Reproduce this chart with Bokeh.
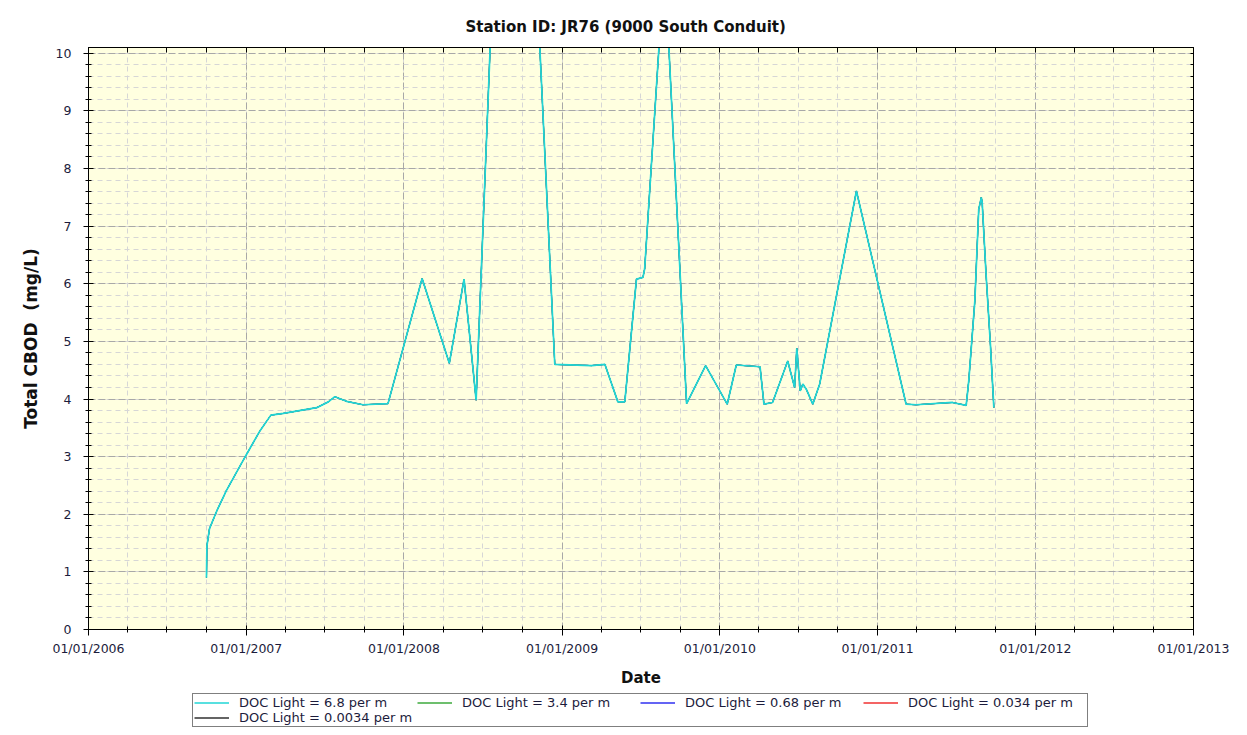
import pandas as pd
from bokeh.plotting import figure
from bokeh.layouts import column
from bokeh.models import (FixedTicker, DatetimeTickFormatter, Legend, LegendItem,
                          LinearAxis, DatetimeAxis, Range1d)
from bokeh.embed import file_html
from bokeh.resources import INLINE

# ---------------- data ----------------
dates = ["2006-10-01", "2006-10-02", "2006-10-08", "2006-10-25", "2006-11-16", "2006-12-29",
         "2007-02-02", "2007-02-27", "2007-03-28", "2007-06-13", "2007-07-10", "2007-07-25",
         "2007-08-21", "2007-09-28", "2007-11-25", "2008-02-12", "2008-04-15", "2008-05-19",
         "2008-06-16", "2008-09-09", "2008-12-15", "2009-03-10", "2009-04-10", "2009-05-10",
         "2009-05-26", "2009-06-22", "2009-07-07", "2009-07-11", "2009-08-26", "2009-10-16",
         "2009-11-29", "2010-01-18", "2010-02-08", "2010-04-04", "2010-04-13", "2010-05-03",
         "2010-06-07", "2010-06-23", "2010-06-28", "2010-07-06", "2010-07-12", "2010-07-20",
         "2010-08-04", "2010-08-20", "2010-11-13", "2011-03-08", "2011-03-31", "2011-06-23",
         "2011-07-25", "2011-07-31", "2011-08-14", "2011-08-23", "2011-08-29", "2011-08-31",
         "2011-09-09", "2011-09-19", "2011-09-27"]
cbod_6_8 = [0.90, 1.45, 1.75, 2.06, 2.41, 2.99,
            3.45, 3.72, 3.75, 3.85, 3.95, 4.04,
            3.96, 3.90, 3.92, 6.09, 4.62, 6.08,
            3.98, 20.0, 4.60, 4.58, 4.60, 3.95,
            3.95, 6.08, 6.11, 6.26, 11.6, 3.92,
            4.58, 3.91, 4.59, 4.56, 3.91, 3.94,
            4.66, 4.20, 4.88, 4.14, 4.26, 4.17,
            3.91, 4.26, 7.61, 3.91, 3.90, 3.94,
            3.89, 4.32, 5.70, 7.29, 7.50, 7.41,
            6.16, 4.95, 3.85]
# the other light scenarios coincide with the 6.8 per m run at this scale
cbod_3_4 = list(cbod_6_8)
cbod_0_68 = list(cbod_6_8)
cbod_0_034 = list(cbod_6_8)
cbod_0_0034 = list(cbod_6_8)

series_labels = ["DOC Light = 6.8 per m", "DOC Light = 3.4 per m", "DOC Light = 0.68 per m",
                 "DOC Light = 0.034 per m", "DOC Light = 0.0034 per m"]
series_values = [cbod_6_8, cbod_3_4, cbod_0_68, cbod_0_034, cbod_0_0034]
series_colors = ["#20D6D6", "#3CAA3C", "#3030F0", "#F03030", "#303030"]

year_ticks = ["2006-01-01", "2007-01-01", "2008-01-01", "2009-01-01", "2010-01-01",
              "2011-01-01", "2012-01-01", "2013-01-01"]
y_ticks = [0, 1, 2, 3, 4, 5, 6, 7, 8, 9, 10]

# ---------------- helpers ----------------
def ms(s):
    return pd.Timestamp(s).value / 1e6

x = pd.to_datetime(dates)
major_x = [ms(s) for s in year_ticks]
minor_x = []
for yr in range(2006, 2013):
    for m in (1, 4, 7, 10):
        minor_x.append(ms(f"{yr}-{m:02d}-01"))
minor_x.append(ms("2013-01-01"))
minor_y = [round(i * 0.2, 2) for i in range(0, 51)]

FONT = "DejaVu Sans"
TXT = "#1c1c3c"

p = figure(width=1240, height=690, x_axis_type="datetime", output_backend="svg",
           toolbar_location=None,
           x_range=Range1d(major_x[0], major_x[-1]), y_range=Range1d(0, 10.1),
           background_fill_color="#FFFFE0", border_fill_color="white",
           min_border_left=88, min_border_right=47, min_border_top=47, min_border_bottom=61)

p.title.text = "Station ID: JR76 (9000 South Conduit)"
p.title.align = "left"
p.title.offset = 377
p.title.standoff = 23
p.title.text_font = FONT
p.title.text_font_size = "15px"
p.title.text_font_style = "bold"
p.title.text_color = "#111111"

p.outline_line_color = "black"
p.outline_line_width = 1

# renderers: hidden series first (thin), cyan last on top
for lab, vals, col in reversed(list(zip(series_labels, series_values, series_colors))):
    lw = 1.7 if lab == series_labels[0] else 1.0
    p.line(x, vals, line_color=col, line_width=lw)

# axes
xt = FixedTicker(ticks=major_x, minor_ticks=minor_x)
yt = FixedTicker(ticks=y_ticks, minor_ticks=minor_y)
fmt = "%m/%d/%Y"
xa = p.xaxis[0]
xa.ticker = xt
xa.formatter = DatetimeTickFormatter(microseconds=fmt, milliseconds=fmt, seconds=fmt, minsec=fmt,
                                     minutes=fmt, hourmin=fmt, hours=fmt, days=fmt, months=fmt,
                                     years=fmt)
ya = p.yaxis[0]
ya.ticker = yt
for ax in (xa, ya):
    ax.axis_line_color = "black"
    ax.major_tick_line_color = "black"
    ax.minor_tick_line_color = "black"
    ax.major_label_text_font = FONT
    ax.major_label_text_font_size = "12.5px"
    ax.major_label_text_color = TXT
    ax.axis_label_text_font = FONT
    ax.axis_label_text_font_style = "bold"
    ax.axis_label_text_color = "#111111"
xa.axis_label = "Date"
xa.axis_label_text_font_size = "15px"
xa.major_tick_in = 4
xa.major_tick_out = 6
xa.minor_tick_in = 3
xa.minor_tick_out = 3
xa.major_label_standoff = 5
xa.axis_label_standoff = 10
ya.axis_label = "Total CBOD\u00a0\u00a0(mg/L)"
ya.axis_label_text_font_size = "17px"
ya.major_tick_in = 5
ya.major_tick_out = 5
ya.minor_tick_in = 3
ya.minor_tick_out = 3
ya.major_label_standoff = 12
ya.axis_label_standoff = 12

# mirrored inner ticks on top and right
top_ax = DatetimeAxis(ticker=FixedTicker(ticks=[], minor_ticks=minor_x), axis_line_color="black",
                      minor_tick_in=5, minor_tick_out=0, minor_tick_line_color="black")
p.add_layout(top_ax, "above")
right_ax = LinearAxis(ticker=FixedTicker(ticks=[], minor_ticks=minor_y), axis_line_color="black",
                      minor_tick_in=3, minor_tick_out=0, minor_tick_line_color="black")
p.add_layout(right_ax, "right")

# grids
for g in (p.xgrid[0], p.ygrid[0]):
    g.grid_line_color = "#a8a8a8"
    g.grid_line_dash = "7 3"
    g.grid_line_width = 1
    g.minor_grid_line_color = "#d6d6d6"
    g.minor_grid_line_dash = "5 4"
p.xgrid[0].ticker = xt
p.ygrid[0].ticker = yt

# ---------------- legend strip below the chart ----------------
# same series, drawn in a strip whose y range excludes them, so only the legend shows
leg = figure(width=1240, height=42, output_backend="svg", toolbar_location=None,
             x_axis_location=None, y_axis_location=None,
             x_range=Range1d(major_x[0], major_x[-1]), y_range=Range1d(-2, -1),
             min_border_left=0, min_border_right=0, min_border_top=0, min_border_bottom=0,
             background_fill_color="white", border_fill_color="white")
leg.outline_line_color = None
leg.grid.visible = False
leg_items = []
for lab, vals, col in zip(series_labels, series_values, series_colors):
    r = leg.line(x, vals, line_color=col, line_width=1.6)
    leg_items.append(LegendItem(label=lab, renderers=[r]))
legend = Legend(items=leg_items, orientation="horizontal", ncols=4, location=(104, 5),
                border_line_color="black", border_line_width=1, background_fill_color="white",
                background_fill_alpha=1.0,
                label_text_font=FONT, label_text_font_size="13px", label_text_color=TXT,
                glyph_width=35, glyph_height=15, label_height=15, label_width=178,
                label_standoff=10, spacing=0, padding=1, margin=0)
leg.add_layout(legend, "center")

layout = column(p, leg, spacing=0)
open("out.html", "w").write(file_html(layout, INLINE))
